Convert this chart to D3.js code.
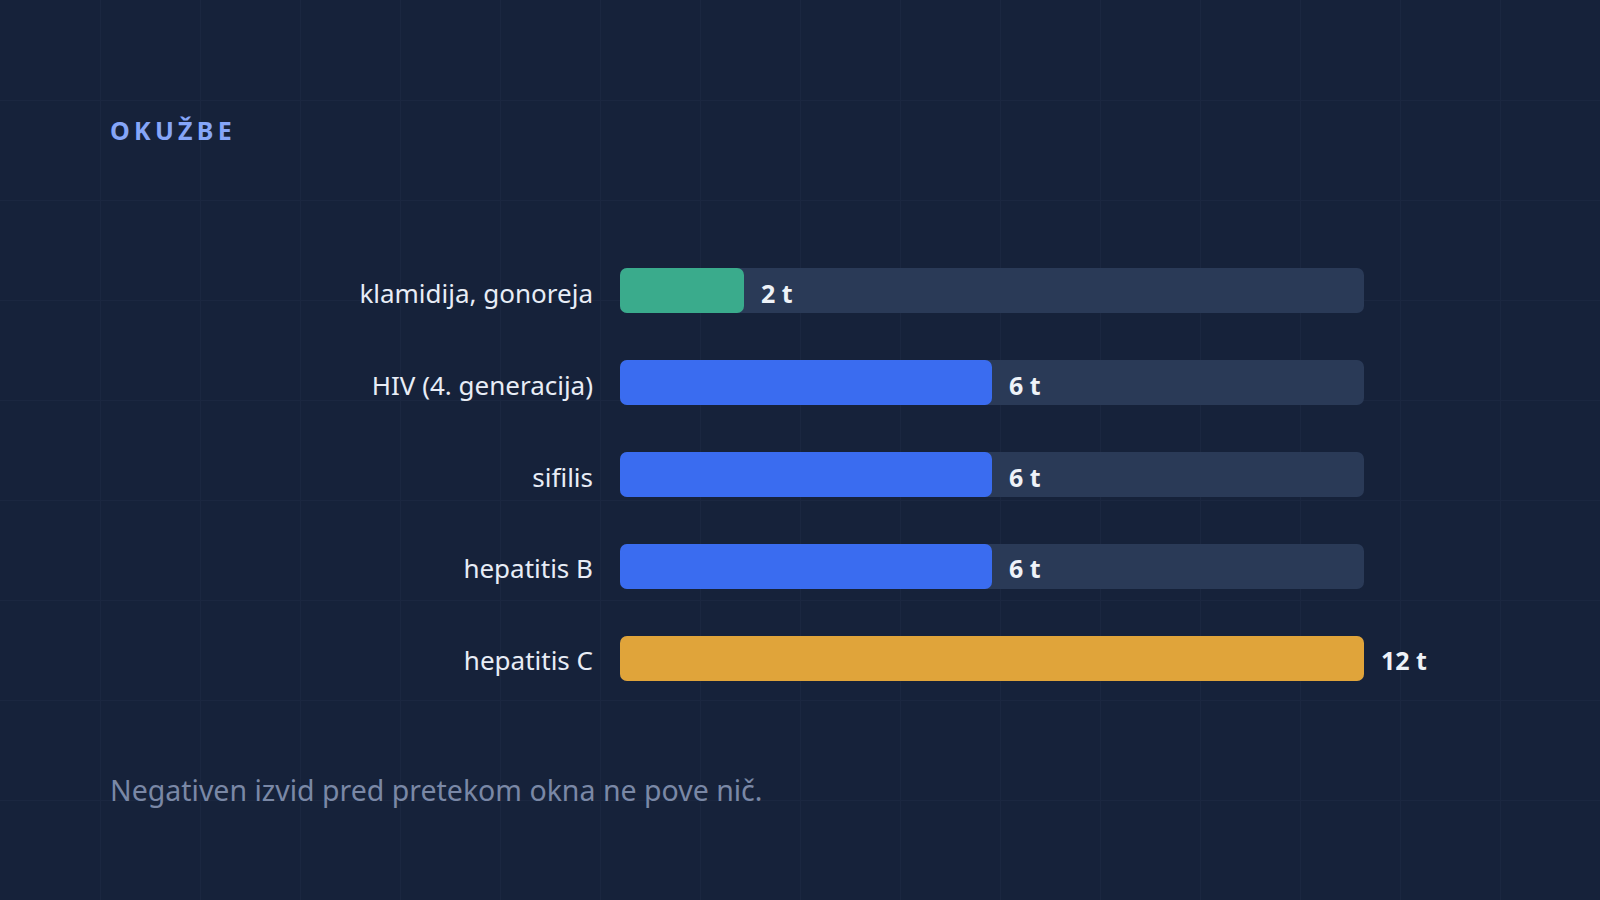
<!DOCTYPE html>
<html lang="sl">
<head>
  <meta charset="UTF-8">
  <title>Okužbe</title>
  <script src="https://d3js.org/d3.v7.min.js"></script>
  <style>
    html, body {
      margin: 0;
      padding: 0;
      background: #16223a;
    }
    svg {
      display: block;
      font-family: "Noto Sans", "Open Sans", sans-serif;
    }
  </style>
</head>
<body>
  <svg id="chart"></svg>

  <script>
    // data
    const categories = ["klamidija, gonoreja", "HIV (4. generacija)", "sifilis", "hepatitis B", "hepatitis C"];
    const weeks = [2, 6, 6, 6, 12];
    const barColors = ["#3aab8c", "#3a6cf0", "#3a6cf0", "#3a6cf0", "#e0a43a"];
    const valueLabels = ["2 t", "6 t", "6 t", "6 t", "12 t"];
    const maxWeeks = 12;
    const title = "OKUŽBE";
    const footnote = "Negativen izvid pred pretekom okna ne pove nič.";

    const width = 1600, height = 900;

    const svg = d3.select("#chart")
      .attr("width", width)
      .attr("height", height);

    svg.append("rect")
      .attr("width", width)
      .attr("height", height)
      .attr("fill", "#16223a");

    // faint background grid, every 100px
    const grid = svg.append("g")
      .attr("stroke", "#1b2740")
      .attr("stroke-width", 1);
    grid.selectAll("line.v")
      .data(d3.range(100, width, 100))
      .enter().append("line")
      .attr("x1", d => d + 0.5).attr("x2", d => d + 0.5)
      .attr("y1", 0).attr("y2", height);
    grid.selectAll("line.h")
      .data(d3.range(100, height, 100))
      .enter().append("line")
      .attr("y1", d => d + 0.5).attr("y2", d => d + 0.5)
      .attr("x1", 0).attr("x2", width);

    svg.append("text")
      .attr("x", 110)
      .attr("y", 140)
      .attr("fill", "#86a6f8")
      .style("font-size", "25px")
      .style("font-weight", 700)
      .style("letter-spacing", "0.17em")
      .text(title);

    const x = d3.scaleLinear()
      .domain([0, maxWeeks])
      .range([620, 1364]);

    const y = d3.scaleBand()
      .domain(categories)
      .range([268, 681])
      .paddingInner(0.51)
      .paddingOuter(0);

    const rows = svg.append("g")
      .selectAll("g")
      .data(categories)
      .enter().append("g");

    // track
    rows.append("rect")
      .attr("x", x(0))
      .attr("y", d => y(d))
      .attr("width", x(maxWeeks) - x(0))
      .attr("height", y.bandwidth())
      .attr("rx", 7)
      .attr("fill", "#2a3a57");

    // value bar
    rows.append("rect")
      .attr("x", x(0))
      .attr("y", d => y(d))
      .attr("width", (d, i) => x(weeks[i]) - x(0))
      .attr("height", y.bandwidth())
      .attr("rx", 7)
      .attr("fill", (d, i) => barColors[i]);

    // category labels
    rows.append("text")
      .attr("x", 593)
      .attr("y", d => y(d) + y.bandwidth() / 2 + 12)
      .attr("text-anchor", "end")
      .attr("fill", "#e8edf6")
      .style("font-size", "26px")
      .text(d => d);

    // value labels
    rows.append("text")
      .attr("x", (d, i) => x(weeks[i]) + 17)
      .attr("y", d => y(d) + y.bandwidth() / 2 + 12)
      .attr("fill", "#eef2f8")
      .style("font-size", "25px")
      .style("font-weight", 700)
      .text((d, i) => valueLabels[i]);

    svg.append("text")
      .attr("x", 110)
      .attr("y", 801)
      .attr("fill", "#7a88a6")
      .style("font-size", "28.5px")
      .text(footnote);
  </script>
</body>
</html>
